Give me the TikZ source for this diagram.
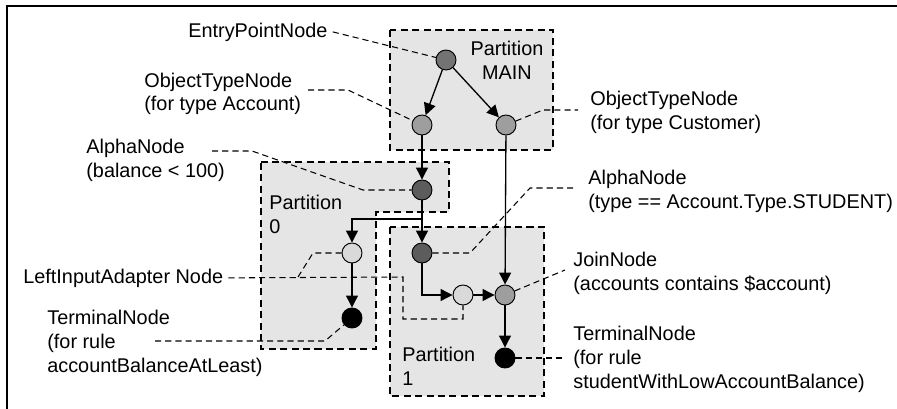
\documentclass[tikz,border=0pt]{standalone}
\usepackage{fontspec}
\setmainfont{Liberation Sans}
\usetikzlibrary{arrows.meta,calc}

\definecolor{partFill}{gray}{0.9}
\definecolor{entryGray}{gray}{0.45}
\definecolor{typeGray}{gray}{0.62}
\definecolor{alphaGray}{gray}{0.36}
\definecolor{liaGray}{gray}{0.85}

\begin{document}
\begin{tikzpicture}[x=0.02cm, y=-0.02cm,
  font=\fontsize{11.3}{13.6}\selectfont,
  >={Triangle[length=6.8pt,width=6.8pt]},
  rete/.style={circle, draw, line width=0.55pt, minimum size=0.4cm, inner sep=0pt},
  entrynode/.style={rete, fill=entryGray},
  typenode/.style={rete, fill=typeGray},
  alphanode/.style={rete, fill=alphaGray},
  lianode/.style={rete, fill=liaGray},
  termnode/.style={rete, fill=black},
  part/.style={draw, fill=partFill, line width=0.6pt, dash pattern=on 4pt off 2.5pt},
  lead/.style={line width=0.6pt, dash pattern=on 3.5pt off 2.3pt},
  link/.style={->, line width=0.75pt},
  lbl/.style={anchor=base west, align=left, inner sep=0pt}]
  \useasboundingbox (0,0) rectangle (897,409);
  \draw[line width=1.1pt] (7,409) -- (7,6) -- (897,6);

  % partitions (base anchor = last line)
  \draw[part] (390,30) rectangle (553,150);
  \draw[part] (261,162) -- (449,162) -- (449,212) -- (376,212)
    -- (376,349) -- (261,349) -- cycle;
  \draw[part] (390,227) rectangle (544,396);
  \node[align=center, anchor=base, inner sep=0pt] (pMain) at (507,79) {Partition\\MAIN};
  \node[lbl] (pZero) at (269,233) {Partition\\0};
  \node[lbl] (pOne) at (402,385) {Partition\\1};

  % rete nodes
  \node[entrynode] (entry) at (446,60) {};
  \node[typenode] (otAcc) at (422,125) {};
  \node[typenode] (otCust) at (506,125) {};
  \node[alphanode] (alBal) at (422,190) {};
  \node[alphanode] (alType) at (422,253) {};
  \node[lianode] (lia0) at (352,253) {};
  \node[termnode] (term0) at (352,318) {};
  \node[lianode] (lia1) at (463,295) {};
  \node[typenode] (join) at (505,295) {};
  \node[termnode] (term1) at (505,358) {};

  \draw[link] (entry) -- (otAcc);
  \draw[link] (entry) -- (otCust);
  \draw[link] (otAcc) -- (alBal);
  \draw[link] (alBal) -- (alType);
  \coordinate (fork) at (422,219);
  \draw[link] (fork) -| (lia0);
  \draw[link] (lia0) -- (term0);
  \draw[link] (alType) |- (lia1);
  \draw[link] (lia1) -- (join);
  \draw[link] (otCust) -- (join);
  \draw[link] (join) -- (term1);

  % labels
  \node[lbl] (entryLbl) at (188,37) {EntryPointNode};
  \node[lbl] (otAccLbl) at (144,111) {ObjectTypeNode\\(for type Account)};
  \node[lbl] (alBalLbl) at (86,177) {AlphaNode\\(balance < 100)};
  \node[lbl] (otCustLbl) at (590,129) {ObjectTypeNode\\(for type Customer)};
  \node[lbl] (alTypeLbl) at (588,208) {AlphaNode\\(type == Account.Type.STUDENT)};
  \node[lbl] (liaLbl) at (23,283) {LeftInputAdapter Node};
  \node[lbl] (term0Lbl) at (47,372) {TerminalNode\\(for rule\\accountBalanceAtLeast)};
  \node[lbl] (joinLbl) at (573,290) {JoinNode\\(accounts contains \$account)};
  \node[lbl] (term1Lbl) at (573,388) {TerminalNode\\(for rule\\studentWithLowAccountBalance)};

  % leaders
  \coordinate (otAccTip) at (308,90);
  \coordinate (alBalTip) at (212,151);
  \coordinate (otCustTip) at (578,110);
  \coordinate (alTypeTip) at (577,188);
  \coordinate (liaFork) at (298,277);
  \coordinate (term0Tip) at (155,341);
  \coordinate (joinTip) at (565,270);
  \coordinate (term1Tip) at (563,358);
  \draw[lead] ($(entryLbl.east)+(5,0)$) -- (entry);
  \draw[lead] (otAccTip) -- (348,90) -- (otAcc);
  \draw[lead] (alBalTip) -- (252,151) -- (363,190) -- (alBal);
  \draw[lead] (otCust) -- (543,110) -- (otCustTip);
  \draw[lead] (alType) -- (470,253) -- (530,188) -- (alTypeTip);
  \draw[lead] ($(liaLbl.east)+(5,0)$) -- (403,277) -- (403,319) -- (463,319) -- (lia1);
  \draw[lead] (liaFork) -- (313,253) -- (lia0);
  \draw[lead] (term0Tip) -- (325,341) -- (term0);
  \draw[lead] (join) -- (joinTip);
  \draw[lead] (term1) -- (term1Tip);
\end{tikzpicture}
\end{document}
